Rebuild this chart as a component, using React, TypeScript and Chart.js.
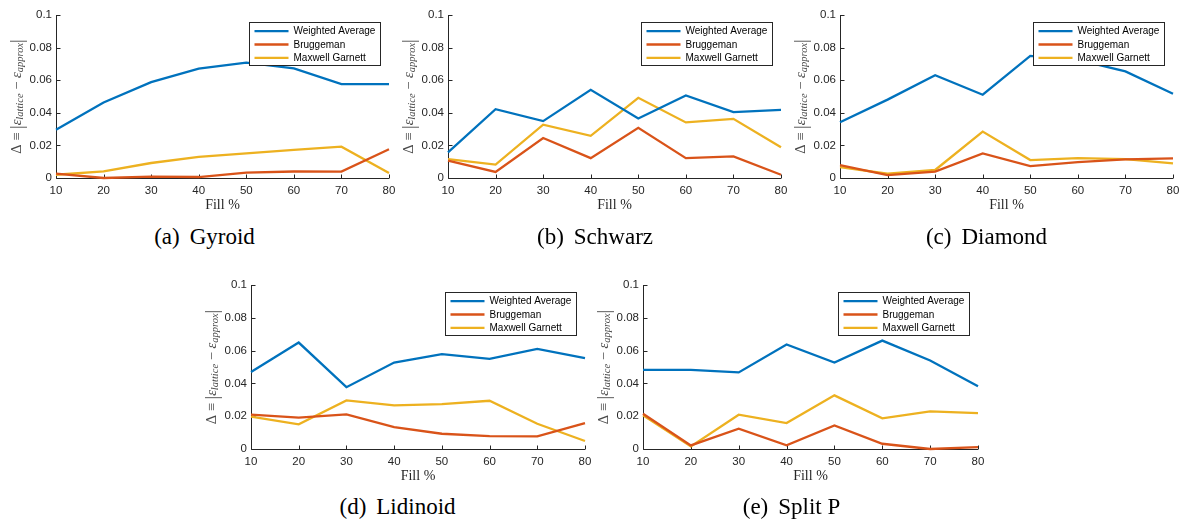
import React, { useEffect, useRef } from "react";
import { Chart, registerables } from "chart.js";

Chart.register(...registerables);

// ---------- data ----------
const fillLabels = ["10", "20", "30", "40", "50", "60", "70", "80"];
const yTickValues = [0, 0.02, 0.04, 0.06, 0.08, 0.1];
const yTickLabels = ["0", "0.02", "0.04", "0.06", "0.08", "0.1"];
const seriesNames = ["Weighted Average", "Bruggeman", "Maxwell Garnett"];
const seriesColors = ["#0072BD", "#D95319", "#EDB120"];

const gyroidWeighted = [0.0296, 0.0463, 0.0588, 0.0671, 0.0708, 0.0673, 0.0576, 0.0576];
const gyroidBruggeman = [0.0027, 0.0, 0.0008, 0.0006, 0.0033, 0.004, 0.0039, 0.0176];
const gyroidMaxwell = [0.002, 0.004, 0.0092, 0.0129, 0.0151, 0.0173, 0.0192, 0.003];

const schwarzWeighted = [0.0157, 0.0422, 0.0349, 0.0541, 0.0365, 0.0506, 0.0404, 0.0418];
const schwarzBruggeman = [0.0106, 0.0037, 0.0245, 0.0122, 0.0308, 0.0122, 0.0133, 0.002];
const schwarzMaxwell = [0.0116, 0.0082, 0.0327, 0.0259, 0.0492, 0.0341, 0.0363, 0.0188];

const diamondWeighted = [0.0342, 0.0481, 0.0631, 0.0511, 0.0749, 0.0725, 0.0654, 0.0517];
const diamondBruggeman = [0.0079, 0.0018, 0.0039, 0.0151, 0.0073, 0.0098, 0.0114, 0.012];
const diamondMaxwell = [0.0067, 0.0026, 0.0049, 0.0285, 0.011, 0.0122, 0.0116, 0.009];

const lidinoidWeighted = [0.0469, 0.0649, 0.0377, 0.0527, 0.0578, 0.055, 0.061, 0.0554];
const lidinoidBruggeman = [0.0209, 0.0191, 0.0211, 0.0134, 0.0093, 0.0079, 0.0077, 0.0158];
const lidinoidMaxwell = [0.0197, 0.015, 0.0296, 0.0266, 0.0274, 0.0294, 0.0154, 0.0049];

const splitPWeighted = [0.0483, 0.0483, 0.0467, 0.0637, 0.0527, 0.0661, 0.054, 0.0383];
const splitPBruggeman = [0.0215, 0.0022, 0.0124, 0.0022, 0.0144, 0.0032, 0.0, 0.0012];
const splitPMaxwell = [0.0205, 0.0016, 0.0209, 0.0158, 0.0327, 0.0187, 0.0229, 0.0219];

const xTitle = "Fill %";
const captions = ["(a)", "(b)", "(c)", "(d)", "(e)"];
const captionNames = ["Gyroid", "Schwarz", "Diamond", "Lidinoid", "Split P"];

// ---------- layout ----------
type PanelLayout = {
  left: number; top: number; w: number; h: number; capX: number; capBase: number;
};
const panelLayouts: PanelLayout[] = [
  { left: 56, top: 15, w: 333, h: 163, capX: 204.5, capBase: 245 },
  { left: 448, top: 15, w: 333, h: 163, capX: 595, capBase: 245 },
  { left: 840, top: 15, w: 333, h: 163, capX: 986.5, capBase: 245 },
  { left: 251, top: 285, w: 334, h: 164, capX: 397.5, capBase: 515 },
  { left: 643, top: 285, w: 335, h: 164, capX: 791.5, capBase: 515 },
];
const panelSeries = [
  [gyroidWeighted, gyroidBruggeman, gyroidMaxwell],
  [schwarzWeighted, schwarzBruggeman, schwarzMaxwell],
  [diamondWeighted, diamondBruggeman, diamondMaxwell],
  [lidinoidWeighted, lidinoidBruggeman, lidinoidMaxwell],
  [splitPWeighted, splitPBruggeman, splitPMaxwell],
];

const PAD_L = 20, Y_W = 40, PAD_T = 15, PAD_R = 12, PAD_B = 20, X_H = 25;
const AXIS_COLOR = "#262626";
const SANS = '"Liberation Sans", Arial, Helvetica, sans-serif';
const SERIF = '"Liberation Serif", "Times New Roman", serif';

const decorPlugin = {
  id: "matlabDecor",
  beforeDatasetsDraw(chart: any) {
    const { ctx, chartArea } = chart;
    const xs = chart.scales.x;
    const ys = chart.scales.y;
    const l = Math.round(chartArea.left) + 0.5;
    const b = Math.round(chartArea.bottom) + 0.5;
    ctx.save();
    ctx.strokeStyle = AXIS_COLOR;
    ctx.lineWidth = 1;
    ctx.beginPath();
    ctx.moveTo(l, chartArea.top);
    ctx.lineTo(l, b);
    ctx.lineTo(chartArea.right, b);
    for (const v of yTickValues) {
      const y = Math.round(ys.getPixelForValue(v)) + 0.5;
      ctx.moveTo(l, y);
      ctx.lineTo(l + 4, y);
    }
    for (let i = 0; i < fillLabels.length; i++) {
      const x = Math.round(xs.getPixelForValue(i)) + 0.5;
      ctx.moveTo(x, b);
      ctx.lineTo(x, b - 4);
    }
    ctx.stroke();
    ctx.restore();
  },
  afterDraw(chart: any) {
    const { ctx, chartArea } = chart;
    ctx.save();
    // legend box
    const bw = 131, bh = 43;
    const bx = Math.round(chartArea.right - 9 - bw) + 0.5;
    const by = Math.round(chartArea.top + 7) + 0.5;
    ctx.fillStyle = "#ffffff";
    ctx.fillRect(bx, by, bw, bh);
    ctx.strokeStyle = "#262626";
    ctx.lineWidth = 1;
    ctx.strokeRect(bx, by, bw, bh);
    chart.data.datasets.forEach((ds: any, i: number) => {
      const ry = by + 8.7 + i * 13.3;
      ctx.strokeStyle = ds.borderColor;
      ctx.lineWidth = 2.3;
      ctx.beginPath();
      ctx.moveTo(bx + 5, ry);
      ctx.lineTo(bx + 39, ry);
      ctx.stroke();
      ctx.fillStyle = "#000000";
      ctx.font = `10px ${SANS}`;
      ctx.textBaseline = "middle";
      ctx.textAlign = "left";
      ctx.fillText(ds.label, bx + 44, ry + 0.5);
    });
    // x title
    ctx.fillStyle = AXIS_COLOR;
    ctx.font = `14px ${SERIF}`;
    ctx.textAlign = "center";
    ctx.textBaseline = "alphabetic";
    ctx.fillText(xTitle, (chartArea.left + chartArea.right) / 2, chartArea.bottom + 31);
    // y title
    const segs = [
      { t: "\u0394 \u2261 ", f: `14.5px ${SERIF}`, dy: 0 },
      { t: "|", f: `18px ${SERIF}`, dy: 1 },
      { t: "\u03b5", f: `italic 14.5px ${SERIF}`, dy: 0 },
      { t: "lattice", f: `italic 10.5px ${SERIF}`, dy: 3 },
      { t: " \u2212 ", f: `14.5px ${SERIF}`, dy: 0 },
      { t: "\u03b5", f: `italic 14.5px ${SERIF}`, dy: 0 },
      { t: "approx", f: `italic 10.5px ${SERIF}`, dy: 3 },
      { t: "|", f: `18px ${SERIF}`, dy: 1 },
    ];
    let total = 0;
    const widths = segs.map((s) => {
      ctx.font = s.f;
      const w = ctx.measureText(s.t).width;
      total += w;
      return w;
    });
    ctx.translate(chartArea.left - 39, (chartArea.top + chartArea.bottom) / 2);
    ctx.rotate(-Math.PI / 2);
    ctx.fillStyle = "#4a4a4a";
    ctx.textAlign = "left";
    ctx.textBaseline = "middle";
    let x = -total / 2;
    segs.forEach((s, i) => {
      ctx.font = s.f;
      ctx.fillText(s.t, x, s.dy);
      x += widths[i];
    });
    ctx.restore();
  },
};

function Panel({ idx }: { idx: number }) {
  const ref = useRef<HTMLCanvasElement | null>(null);
  const L = panelLayouts[idx];
  const cw = L.w + PAD_L + Y_W + PAD_R;
  const ch = L.h + PAD_T + PAD_B + X_H;
  useEffect(() => {
    if (!ref.current) return;
    const chart = new Chart(ref.current, {
      type: "line",
      data: {
        labels: fillLabels,
        datasets: panelSeries[idx].map((vals, i) => ({
          label: seriesNames[i],
          data: vals,
          borderColor: seriesColors[i],
          backgroundColor: seriesColors[i],
          borderWidth: 2.3,
          pointRadius: 0,
          tension: 0,
          fill: false,
          clip: 4,
        })),
      },
      options: {
        animation: false,
        responsive: false,
        maintainAspectRatio: false,
        events: [],
        layout: { padding: { left: PAD_L, top: PAD_T, right: PAD_R, bottom: PAD_B } },
        plugins: { legend: { display: false }, tooltip: { enabled: false } },
        scales: {
          x: {
            type: "category",
            offset: false,
            grid: { display: false, drawTicks: false },
            border: { display: false },
            ticks: {
              autoSkip: false,
              maxRotation: 0,
              padding: 6,
              color: AXIS_COLOR,
              font: { family: SANS, size: 11.5 },
            },
            afterFit: (s: any) => {
              s.height = X_H;
              s.paddingLeft = 0;
              s.paddingRight = 0;
            },
          },
          y: {
            type: "linear",
            min: 0,
            max: 0.1,
            grid: { display: false, drawTicks: false },
            border: { display: false },
            afterBuildTicks: (s: any) => {
              s.ticks = yTickValues.map((v) => ({ value: v }));
            },
            ticks: {
              padding: 4,
              color: AXIS_COLOR,
              font: { family: SANS, size: 11.5 },
              callback: (_v: any, i: number) => yTickLabels[i],
            },
            afterFit: (s: any) => {
              s.width = Y_W;
              s.paddingTop = 0;
              s.paddingBottom = 0;
            },
          },
        },
      } as any,
      plugins: [decorPlugin],
    });
    return () => chart.destroy();
  }, [idx]);
  return (
    <>
      <canvas
        ref={ref}
        width={cw}
        height={ch}
        style={{
          position: "absolute",
          left: L.left - PAD_L - Y_W,
          top: L.top - PAD_T,
          width: cw,
          height: ch,
        }}
      />
      <div
        style={{
          position: "absolute",
          left: L.capX,
          top: L.capBase - 20.5,
          transform: "translateX(-50%)",
          fontFamily: SERIF,
          fontSize: 23,
          lineHeight: "23px",
          whiteSpace: "pre",
          color: "#000",
        }}
      >
        {captions[idx]}
        <span style={{ marginLeft: 10 }}>{captionNames[idx]}</span>
      </div>
    </>
  );
}

export default function App() {
  return (
    <div
      style={{
        position: "absolute",
        left: 0,
        top: 0,
        width: 1184,
        height: 527,
        background: "#fff",
        overflow: "hidden",
      }}
    >
      {panelLayouts.map((_, i) => (
        <Panel key={i} idx={i} />
      ))}
    </div>
  );
}
